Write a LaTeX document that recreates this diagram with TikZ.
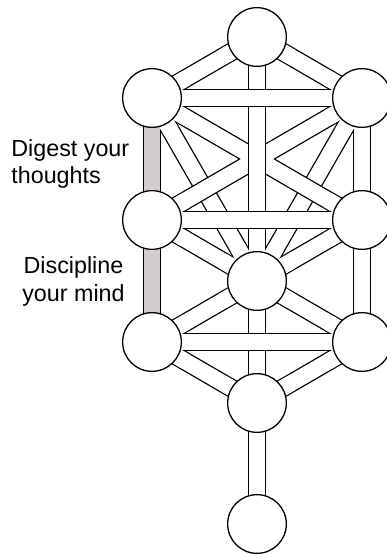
\documentclass[tikz,border=0pt]{standalone}
\usepackage{fontspec}
\setmainfont{Liberation Sans}
\definecolor{pathgray}{RGB}{210,206,206}
\begin{document}
\begin{tikzpicture}[x=1pt,y=-1pt,
  barout/.style={draw=black,line width=18.6pt},
  barin/.style={draw=white,line width=16pt},
  grayin/.style={draw=pathgray,line width=16pt},
  sefira/.style={circle,draw=black,fill=white,line width=1.3pt,minimum size=58.7pt,inner sep=0pt},
  label/.style={inner sep=0pt,font=\fontsize{23.3}{27.5}\selectfont}]
\useasboundingbox (0,0) rectangle (387,554);
\clip (0,0) rectangle (387,554);
% centres
\coordinate (k)   at (257,37);
\coordinate (ch)  at (362,98);
\coordinate (bi)  at (152,98);
\coordinate (che) at (362,220);
\coordinate (ge)  at (152,220);
\coordinate (ti)  at (257,281);
\coordinate (ne)  at (362,342);
\coordinate (ho)  at (152,342);
\coordinate (ye)  at (257,403);
\coordinate (ma)  at (257,524);
% layer 1
\foreach \a/\b in {bi/ti,ch/ti,ge/ti,che/ti,k/bi,k/ch,ti/ne,ti/ho,ne/ye,ho/ye,ye/ma,ch/che,che/ne,ti/ye,bi/ge,ge/ho}
  \draw[barout] (\a) -- (\b);
\foreach \a/\b in {bi/ti,ch/ti,ge/ti,che/ti,k/bi,k/ch,ti/ne,ti/ho,ne/ye,ho/ye,ye/ma,ch/che,che/ne,ti/ye}
  \draw[barin] (\a) -- (\b);
\foreach \a/\b in {bi/ge,ge/ho}
  \draw[grayin] (\a) -- (\b);
% layer 2: crossing diagonals
\foreach \a/\b in {bi/che,ch/ge} \draw[barout] (\a) -- (\b);
\foreach \a/\b in {bi/che,ch/ge} \draw[barin] (\a) -- (\b);
% layer 3: middle pillar
\draw[barout] (k) -- (ti);
\draw[barin] (k) -- (ti);
% layer 4: horizontals
\foreach \a/\b in {bi/ch,ge/che,ho/ne} \draw[barout] (\a) -- (\b);
\foreach \a/\b in {bi/ch,ge/che,ho/ne} \draw[barin] (\a) -- (\b);
% merge bar ends around each sefira
\foreach \c in {k,ch,bi,che,ge,ti,ne,ho,ye,ma}{
  \begin{scope}
    \clip (\c) circle (40);
    \foreach \a/\b in {bi/ti,ch/ti,ge/ti,che/ti,k/bi,k/ch,ti/ne,ti/ho,ne/ye,ho/ye,ye/ma,ch/che,che/ne,ti/ye,bi/che,ch/ge,k/ti,bi/ch,ge/che,ho/ne}
      \draw[barin] (\a) -- (\b);
    \foreach \a/\b in {bi/ge,ge/ho}
      \draw[grayin] (\a) -- (\b);
  \end{scope}
}
% sefirot
\node[sefira] (keter)    at (k)   {};
\node[sefira] (chokmah)  at (ch)  {};
\node[sefira] (binah)    at (bi)  {};
\node[sefira] (chesed)   at (che) {};
\node[sefira] (gevurah)  at (ge)  {};
\node[sefira] (tiferet)  at (ti)  {};
\node[sefira] (netzach)  at (ne)  {};
\node[sefira] (hod)      at (ho)  {};
\node[sefira] (yesod)    at (ye)  {};
\node[sefira] (malkuth)  at (ma)  {};
% labels
\node[label,anchor=north west,align=left] (digest) at (11.2,139.2) {Digest your\\thoughts};
\node[label,anchor=north,align=center] (discipline) at (73.5,256.5) {Discipline\\your mind};
\end{tikzpicture}
\end{document}
